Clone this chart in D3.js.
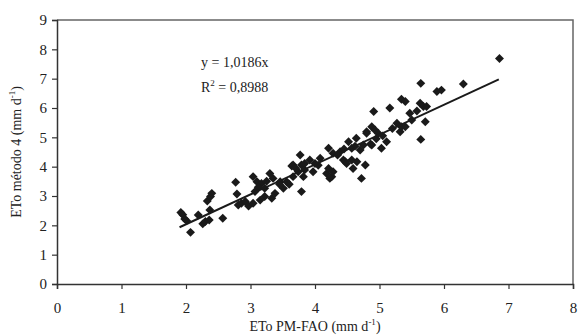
<!DOCTYPE html>
<html>
<head>
<meta charset="utf-8">
<script src="https://cdn.jsdelivr.net/npm/d3@7"></script>
<style>
  body { margin: 0; background: #fff; }
  svg { display: block; font-family: "Liberation Serif", "Times New Roman", serif; }
</style>
</head>
<body>
<div id="chart"></div>
<script>
// ETo PM-FAO (x) vs ETo método 4 (y), mm d-1
const etoPM = [
  1.92, 1.95, 1.98, 2.01, 2.07, 2.19, 2.26, 2.30, 2.36, 2.37, 2.33, 2.38, 2.40, 2.57,
  2.77, 2.79, 2.81, 2.86, 2.92, 2.97, 3.04, 3.07, 3.10, 3.04, 3.15, 3.17, 3.22, 3.22,
  3.33, 3.38, 3.30, 3.35, 3.46, 3.51, 3.56, 3.66, 3.64, 3.66, 3.74, 3.77, 3.79, 3.84,
  3.79, 3.82, 3.84, 3.92, 3.97, 4.00, 4.08, 4.18, 4.21, 4.23, 4.26, 4.28, 4.21, 4.28,
  4.39, 4.44, 4.47, 4.49, 4.52, 4.57, 4.57, 4.59, 4.64, 4.65, 4.70, 4.72, 4.75, 4.78,
  4.80, 4.80, 4.86, 4.88, 4.88, 4.91, 4.93, 4.98, 5.03, 5.11, 5.16, 5.27, 5.32, 5.34,
  5.40, 5.34, 5.40, 5.47, 5.50, 5.58, 5.63, 5.68, 5.73, 5.71, 5.64, 5.64, 5.89, 5.96,
  6.30, 6.86, 3.45, 3.60, 3.12, 3.25, 3.70, 4.05, 4.35, 4.62, 4.45, 5.05, 5.20, 4.95
]
const etoM4 = [
  2.44, 2.36, 2.22, 2.16, 1.76, 2.35, 2.05, 2.13, 2.18, 2.52, 2.83, 2.98, 3.09, 2.24,
  3.47, 3.07, 2.69, 2.75, 2.81, 2.66, 2.75, 3.15, 3.49, 3.66, 2.86, 3.43, 3.26, 2.98,
  2.92, 3.09, 3.77, 3.60, 3.49, 3.26, 3.49, 3.66, 4.02, 4.06, 3.83, 4.40, 4.06, 3.89,
  3.15, 3.66, 4.11, 4.23, 3.83, 4.11, 4.29, 3.77, 3.94, 3.60, 3.66, 3.83, 4.63, 4.46,
  4.51, 4.23, 4.17, 4.11, 4.85, 4.63, 4.23, 3.94, 4.97, 4.17, 4.57, 3.60, 4.74, 4.06,
  5.19, 5.14, 4.77, 5.36, 4.74, 5.88, 5.25, 5.14, 4.63, 4.85, 6.00, 5.48, 5.19, 5.36,
  5.36, 6.30, 6.22, 5.82, 5.59, 5.90, 6.16, 6.05, 6.05, 5.53, 4.93, 6.84, 6.56, 6.61,
  6.82, 7.69, 3.40, 3.40, 3.30, 3.50, 3.95, 4.05, 4.40, 4.70, 4.60, 5.05, 5.30, 4.95
]
const xTicks = [0, 1, 2, 3, 4, 5, 6, 7, 8]
const yTicks = [0, 1, 2, 3, 4, 5, 6, 7, 8, 9]
const slope = 1.0186
const fitRange = [1.9, 6.85]

const WIDTH = 579
const HEIGHT = 336
const margin = { left: 57, right: 6, top: 20, bottom: 52 }

const x = d3.scaleLinear().domain([0, 8]).range([margin.left, WIDTH - margin.right])
const y = d3.scaleLinear().domain([0, 9]).range([HEIGHT - margin.bottom, margin.top])

const svg = d3.select('#chart').append('svg')
  .attr('width', WIDTH)
  .attr('height', HEIGHT)

// frame: top and right
svg.append('path')
  .attr('d', `M${x(0)},${y(9)}H${x(8)}V${y(0)}`)
  .attr('fill', 'none')
  .attr('stroke', '#666')
  .attr('stroke-width', 1.5)

const xAxis = svg.append('g')
  .attr('transform', `translate(0,${y(0)})`)
  .call(d3.axisBottom(x).tickValues(xTicks).tickSize(5).tickPadding(13).tickFormat(d3.format('d')))
const yAxis = svg.append('g')
  .attr('transform', `translate(${x(0)},0)`)
  .call(d3.axisLeft(y).tickValues(yTicks).tickSize(5).tickPadding(5).tickFormat(d3.format('d')))

for (const g of [xAxis, yAxis]) {
  g.select('.domain').attr('stroke', '#333').attr('stroke-width', 1.5)
  g.selectAll('.tick line').attr('stroke', '#333').attr('stroke-width', 1.2)
  g.selectAll('.tick text')
    .attr('fill', '#222')
    .style('font-family', '"Liberation Serif", serif')
    .style('font-size', '15px')
}

// points (diamonds)
const pts = etoPM.map((v, i) => ({ x: v, y: etoM4[i] }))
svg.append('g')
  .selectAll('path')
  .data(pts)
  .enter()
  .append('path')
  .attr('d', d3.symbol(d3.symbolSquare, 40)())
  .attr('transform', (d) => `translate(${x(d.x)},${y(d.y)}) rotate(45)`)
  .attr('fill', '#1a1a1a')

// trend line
svg.append('line')
  .attr('x1', x(fitRange[0]))
  .attr('y1', y(fitRange[0] * slope))
  .attr('x2', x(fitRange[1]))
  .attr('y2', y(fitRange[1] * slope))
  .attr('stroke', '#1a1a1a')
  .attr('stroke-width', 2)

// equation
const eq = svg.append('g').attr('font-size', 14).attr('fill', '#222')
eq.append('text').attr('x', 201).attr('y', 67).text('y = 1,0186x')
const r2 = eq.append('text').attr('x', 201).attr('y', 92)
r2.append('tspan').text('R')
r2.append('tspan').attr('dy', -6).attr('font-size', 9).text('2')
r2.append('tspan').attr('dy', 6).text(' = 0,8988')

// axis titles
const xt = svg.append('text')
  .attr('x', (x(0) + x(8)) / 2)
  .attr('y', 331)
  .attr('text-anchor', 'middle')
  .attr('font-size', 14)
  .attr('fill', '#222')
xt.append('tspan').text('ETo PM-FAO (mm d')
xt.append('tspan').attr('dy', -6).attr('font-size', 9).text('-1')
xt.append('tspan').attr('dy', 6).text(')')

const yt = svg.append('text')
  .attr('transform', `translate(21,${(y(0) + y(9)) / 2}) rotate(-90)`)
  .attr('text-anchor', 'middle')
  .attr('font-size', 14)
  .attr('fill', '#222')
yt.append('tspan').text('ETo método 4 (mm d')
yt.append('tspan').attr('dy', -6).attr('font-size', 9).text('-1')
yt.append('tspan').attr('dy', 6).text(')')
</script>
</body>
</html>
